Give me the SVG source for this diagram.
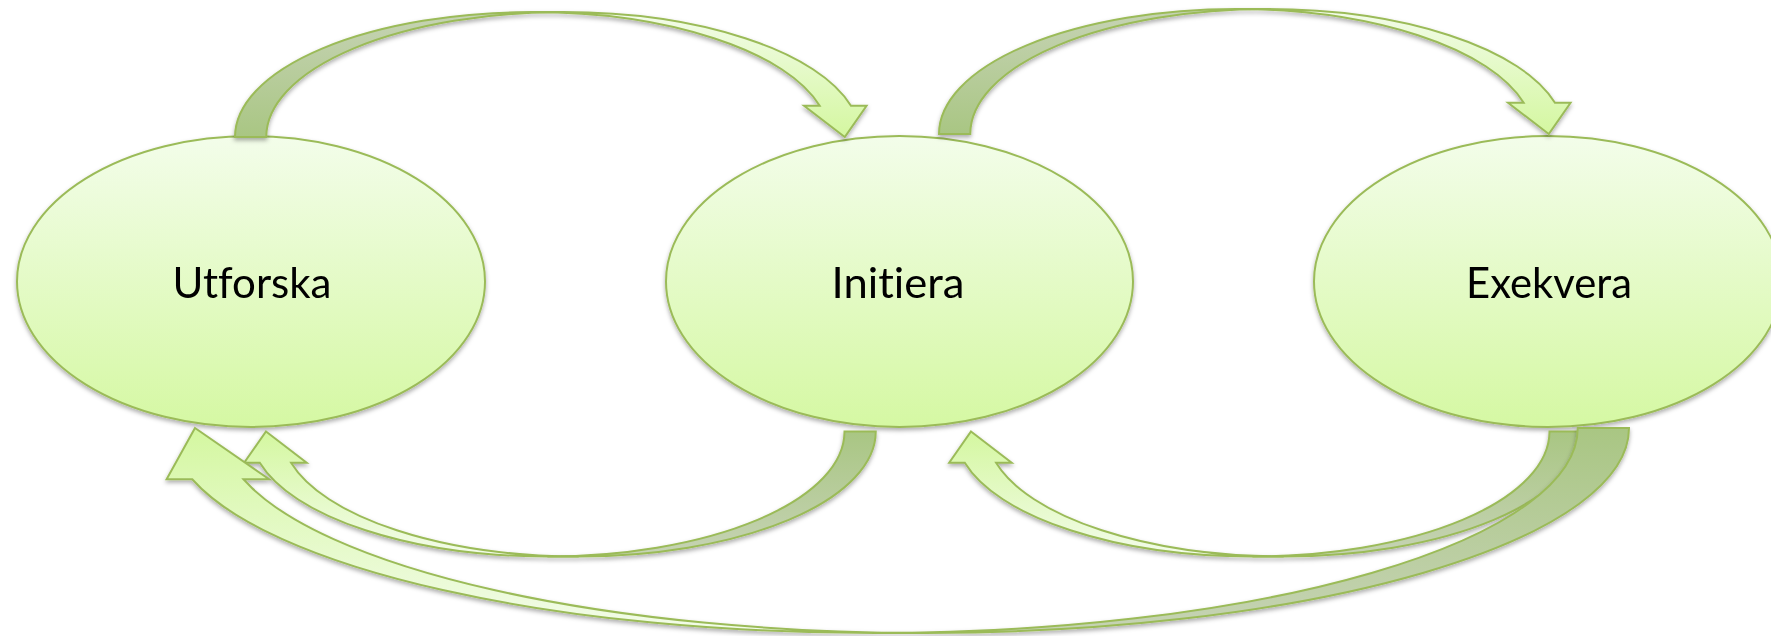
<svg xmlns="http://www.w3.org/2000/svg" width="1771" height="636" viewBox="0 0 1771 636">
  <defs>
    <!-- node fill: pale at the top, saturated lime at the bottom -->
    <linearGradient id="nodeFill" x1="0" y1="0" x2="0" y2="1">
      <stop offset="0" stop-color="#F3FDEA"/>
      <stop offset="1" stop-color="#D5F8A3"/>
    </linearGradient>
    <!-- arrow front face, top arrows (pale top, lime bottom) -->
    <linearGradient id="faceDown" x1="0" y1="0" x2="0" y2="1">
      <stop offset="0" stop-color="#F3FCEA"/>
      <stop offset="1" stop-color="#D4F7A0"/>
    </linearGradient>
    <!-- arrow back face (darkened), top arrows -->
    <linearGradient id="backDown" x1="0" y1="0" x2="0" y2="1">
      <stop offset="0" stop-color="#C6D3B5"/>
      <stop offset="1" stop-color="#A9C683"/>
    </linearGradient>
    <!-- the same two fills flipped for the lower arrows -->
    <linearGradient id="faceUp" x1="0" y1="1" x2="0" y2="0">
      <stop offset="0" stop-color="#F3FCEA"/>
      <stop offset="1" stop-color="#D4F7A0"/>
    </linearGradient>
    <linearGradient id="backUp" x1="0" y1="1" x2="0" y2="0">
      <stop offset="0" stop-color="#C6D3B5"/>
      <stop offset="1" stop-color="#A9C683"/>
    </linearGradient>
    <filter id="shadow" x="-5%" y="-10%" width="110%" height="125%">
      <feDropShadow dx="0" dy="2.5" stdDeviation="2" flood-color="#000" flood-opacity="0.32"/>
    </filter>
  </defs>
  <style>
    .node ellipse { fill: url(#nodeFill); stroke: #9BBB59; stroke-width: 2; }
    .node { filter: url(#shadow); }
    .label { font-family: Lato, "Liberation Sans", sans-serif; font-size: 42px; fill: #000; text-anchor: middle;
             font-variant-ligatures: none; font-feature-settings: "liga" 0, "clig" 0; }
    .arrow { filter: url(#shadow); }
    .arrow path { stroke: #9BBB59; stroke-width: 2; stroke-linejoin: miter; }
    .down .face { fill: url(#faceDown); }
    .down .back { fill: url(#backDown); }
    .up .face { fill: url(#faceUp); }
    .up .back { fill: url(#backUp); }
  </style>

  <rect width="1771" height="636" fill="#FFFFFF"/>

  <!-- process steps -->
  <g id="node-utforska" class="node">
    <ellipse cx="251" cy="281.5" rx="234" ry="145.5"/>
    <text class="label" x="252" y="298" textLength="159" lengthAdjust="spacingAndGlyphs">Utforska</text>
  </g>
  <g id="node-initiera" class="node">
    <ellipse cx="899.5" cy="281.5" rx="233.5" ry="145.5"/>
    <text class="label" x="898" y="298" textLength="133" lengthAdjust="spacingAndGlyphs">Initiera</text>
  </g>
  <g id="node-exekvera" class="node">
    <ellipse cx="1548" cy="281.5" rx="234" ry="145.5"/>
    <text class="label" x="1549" y="298" textLength="166" lengthAdjust="spacingAndGlyphs">Exekvera</text>
  </g>

  <!-- curved ribbon arrows: a lit front face ending in the head, and a darker back face at the tail -->
  <g id="connectors">
    <g id="arrow-utforska-initiera" class="arrow down">
      <path class="face" d="M 844.75 137 L 804.07 105.75 L 819.69 105.75 A 297.06 125 0 0 0 532.06 12 L 563.31 12 A 297.06 125 0 0 1 850.94 105.75 L 866.57 105.75 Z"/>
      <path class="back" d="M 235 137 A 297.06 125 0 0 1 532.06 12 L 563.31 12 A 297.06 125 0 0 0 266.25 137 Z"/>
    </g>
    <g id="arrow-initiera-exekvera" class="arrow down">
      <path class="face" d="M 1548.75 134 L 1508.07 102.75 L 1523.69 102.75 A 297.06 125 0 0 0 1236.06 9 L 1267.31 9 A 297.06 125 0 0 1 1554.94 102.75 L 1570.57 102.75 Z"/>
      <path class="back" d="M 939 134 A 297.06 125 0 0 1 1236.06 9 L 1267.31 9 A 297.06 125 0 0 0 970.25 134 Z"/>
    </g>
    <g id="arrow-initiera-utforska" class="arrow up">
      <path class="face" d="M 266 431.5 L 306.68 462.75 L 291.06 462.75 A 297.06 125 0 0 0 578.69 556.5 L 547.44 556.5 A 297.06 125 0 0 1 259.81 462.75 L 244.18 462.75 Z"/>
      <path class="back" d="M 875.75 431.5 A 297.06 125 0 0 1 578.69 556.5 L 547.44 556.5 A 297.06 125 0 0 0 844.5 431.5 Z"/>
    </g>
    <g id="arrow-exekvera-initiera" class="arrow up">
      <path class="face" d="M 971 431.5 L 1011.68 462.75 L 996.06 462.75 A 297.06 125 0 0 0 1283.69 556.5 L 1252.44 556.5 A 297.06 125 0 0 1 964.81 462.75 L 949.18 462.75 Z"/>
      <path class="back" d="M 1580.75 431.5 A 297.06 125 0 0 1 1283.69 556.5 L 1252.44 556.5 A 297.06 125 0 0 0 1549.5 431.5 Z"/>
    </g>
    <g id="arrow-exekvera-utforska" class="arrow up">
      <path class="face" d="M 195 428 L 269.1 479.25 L 243.47 479.25 A 703.94 205 0 0 0 925.06 633 L 873.81 633 A 703.94 205 0 0 1 192.22 479.25 L 166.6 479.25 Z"/>
      <path class="back" d="M 1629 428 A 703.94 205 0 0 1 925.06 633 L 873.81 633 A 703.94 205 0 0 0 1577.75 428 Z"/>
    </g>
  </g>
</svg>
